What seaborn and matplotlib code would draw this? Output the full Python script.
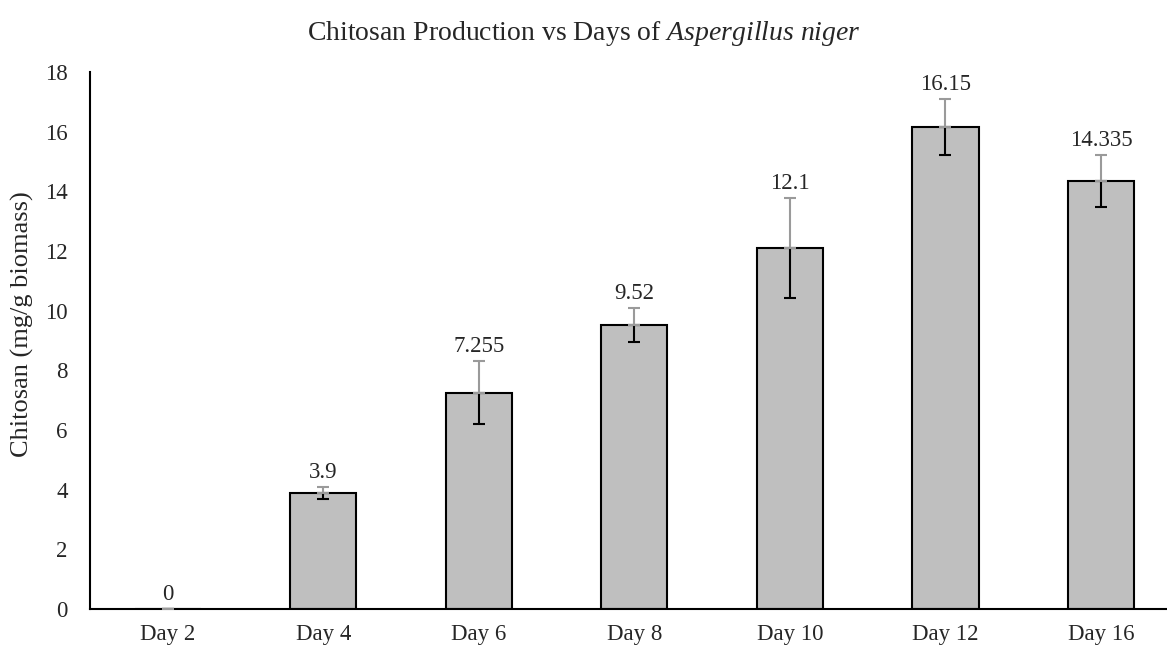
import numpy as np
import seaborn as sns
import matplotlib.pyplot as plt

days = ["Day 2", "Day 4", "Day 6", "Day 8", "Day 10", "Day 12", "Day 16"]
chitosan = [0, 3.9, 7.255, 9.52, 12.1, 16.15, 14.335]
err = [0, 0.2, 1.05, 0.57, 1.67, 0.94, 0.87]
value_labels = ["0", "3.9", "7.255", "9.52", "12.1", "16.15", "14.335"]

sns.set_style("white")
plt.rcParams["font.family"] = ["Liberation Serif", "DejaVu Serif"]
plt.rcParams["mathtext.fontset"] = "custom"
plt.rcParams["mathtext.rm"] = "Liberation Serif"
plt.rcParams["mathtext.it"] = "Liberation Serif:italic"

fig = plt.figure(figsize=(11.67, 6.51), dpi=100)
ax = fig.add_axes([0.0771, 0.0645, 0.933, 0.825])

sns.barplot(x=days, y=chitosan, ax=ax, color="#BFBFBF", edgecolor="black",
            linewidth=1.5, width=0.425, saturation=1)

pos = np.arange(len(days))
vals = np.array(chitosan)
e = np.array(err)
zeros = np.zeros_like(e)

# lower half of the error bar (inside the bar) in black
ax.errorbar(pos, vals, yerr=[e, zeros], fmt="none", ecolor="black",
            elinewidth=1.5, capsize=4, capthick=1.5, zorder=5)
# upper half in grey with a black cap
_, caps, _ = ax.errorbar(pos, vals, yerr=[zeros, e], fmt="none", ecolor="#9a9a9a",
                         elinewidth=1.5, capsize=4, capthick=1.5, zorder=5)
for c in caps:
    c.set_color("black")

for x, v, er, lab in zip(pos, vals, e, value_labels):
    ax.annotate(lab, (x, v + er), xytext=(0, 3), textcoords="offset points",
                ha="center", va="bottom", fontsize=16.5)

ax.set_ylim(0, 18)
ax.set_yticks(np.arange(0, 19, 2))
ax.set_xlim(-0.5, len(days) - 0.5)
ax.tick_params(axis="both", length=0, labelsize=16.5)
ax.tick_params(axis="y", pad=16)
ax.tick_params(axis="x", pad=11)

for s in ["top", "right"]:
    ax.spines[s].set_visible(False)
for s in ["left", "bottom"]:
    ax.spines[s].set_color("black")
    ax.spines[s].set_linewidth(1.5)

ax.set_xlabel("")
ax.set_ylabel("Chitosan (mg/g biomass)", fontsize=19)
ax.yaxis.set_label_coords(-0.051, 0.53)

fig.text(0.5, 1 - 33 / 651, r"Chitosan Production vs Days of $\mathit{Aspergillus\ niger}$",
         ha="center", va="center", fontsize=20)

fig.savefig("out.png", dpi=100)
